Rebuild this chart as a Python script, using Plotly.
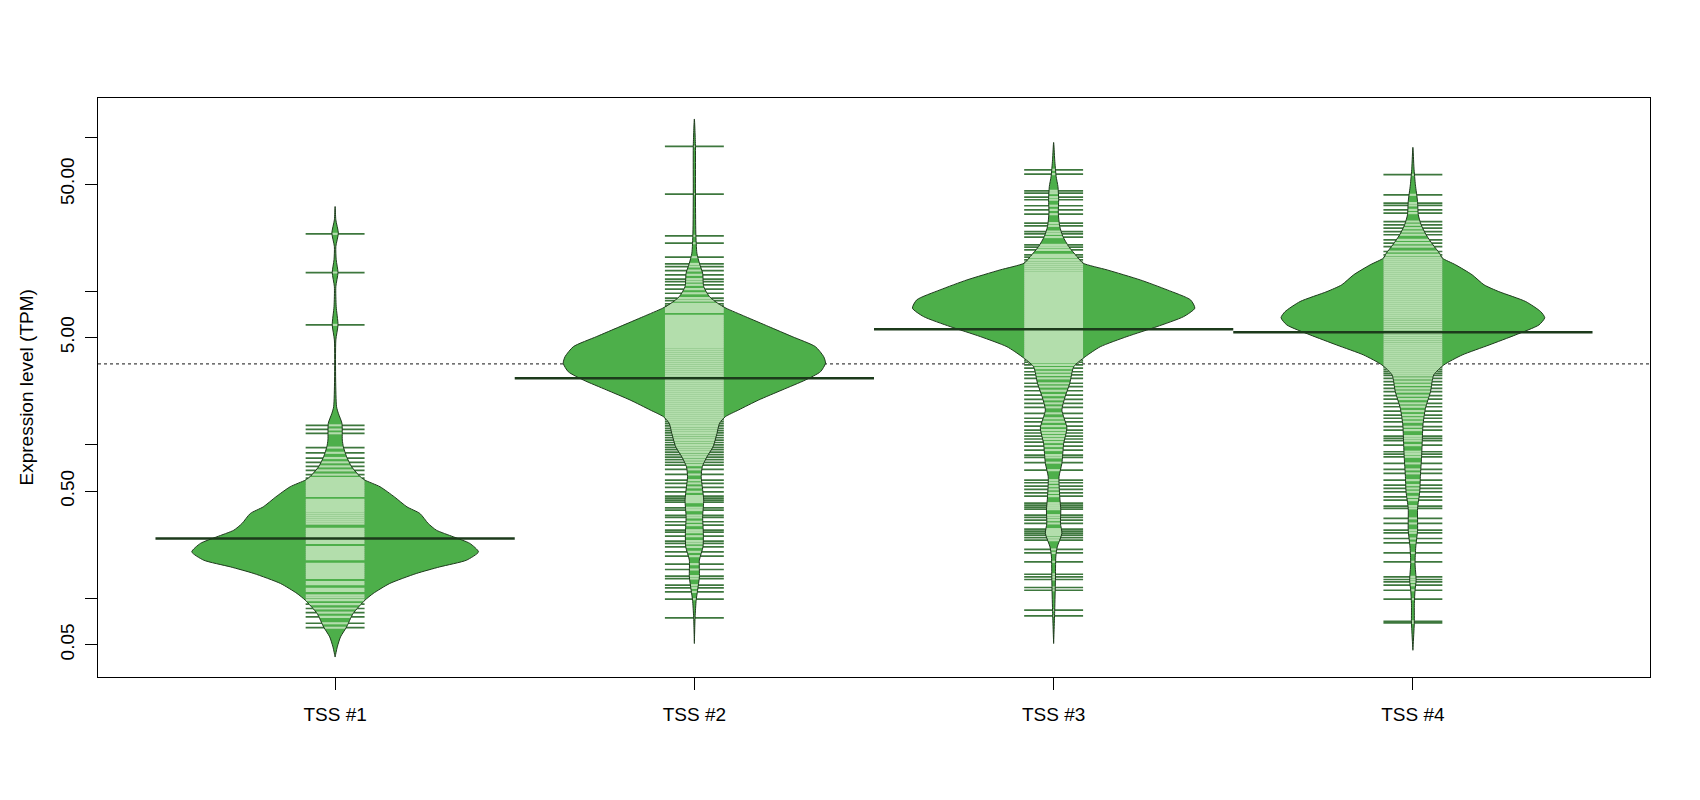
import numpy as np
import plotly.graph_objects as go

# ---------------- data (log10 TPM) ----------------
categories = ["TSS #1", "TSS #2", "TSS #3", "TSS #4"]

obs_tss1 = [1.375, 1.123, 0.782, 0.128, 0.101, 0.076, -0.017, -0.051, -0.085, -0.113, -0.139, -0.166, -0.193,
            -0.216, -0.229, -0.241, -0.255, -0.268, -0.280, -0.293, -0.306, -0.319, -0.331, -0.358, -0.371,
            -0.384, -0.397, -0.410, -0.422, -0.435, -0.448, -0.461, -0.474, -0.487, -0.499, -0.512, -0.546,
            -0.559, -0.572, -0.585, -0.598, -0.611, -0.624, -0.637, -0.665, -0.678, -0.691, -0.704, -0.717,
            -0.730, -0.743, -0.774, -0.787, -0.800, -0.813, -0.826, -0.839, -0.852, -0.865, -0.893, -0.906,
            -0.937, -0.950, -0.980, -0.993, -1.011, -1.037, -1.065, -1.092, -1.120, -1.161, -1.190]

obs_tss2 = [1.944, 1.634, 1.362, 1.314, 1.223, 1.179, 1.162, 1.136, 1.108, 1.080, 1.064, 1.043, 1.015, 0.988,
            0.956, 0.940, 0.919, 0.906, 0.893, 0.880, 0.867, 0.841, 0.828, 0.815, 0.802, 0.789, 0.776, 0.763,
            0.750, 0.737, 0.724, 0.711, 0.698, 0.685, 0.672, 0.659, 0.646, 0.633, 0.620, 0.607, 0.594, 0.581,
            0.568, 0.555, 0.542, 0.529, 0.516, 0.503, 0.490, 0.477, 0.464, 0.451, 0.438, 0.425, 0.412, 0.399,
            0.386, 0.373, 0.360, 0.347, 0.334, 0.321, 0.308, 0.295, 0.282, 0.269, 0.256, 0.243, 0.230, 0.217,
            0.204, 0.191, 0.178, 0.165, 0.152, 0.139, 0.124, 0.108, 0.093, 0.079, 0.062, 0.047, 0.031, 0.016,
            0.001, -0.015, -0.030, -0.046, -0.063, -0.079, -0.096, -0.113, -0.131, -0.159, -0.192, -0.229,
            -0.250, -0.276, -0.305, -0.333, -0.346, -0.359, -0.372, -0.409, -0.424, -0.459, -0.472, -0.500,
            -0.522, -0.555, -0.568, -0.594, -0.626, -0.641, -0.664, -0.696, -0.724, -0.776, -0.811, -0.854,
            -0.870, -0.913, -0.931, -0.957, -1.004, -1.126]

obs_tss3 = [1.792, 1.764, 1.655, 1.640, 1.614, 1.597, 1.558, 1.531, 1.503, 1.445, 1.427, 1.390, 1.375, 1.354,
            1.303, 1.288, 1.271, 1.238, 1.223, 1.206, 1.190, 1.177, 1.164, 1.151, 1.138, 1.125, 1.112, 1.099,
            1.086, 1.073, 1.060, 1.047, 1.034, 1.021, 1.008, 0.995, 0.982, 0.969, 0.956, 0.943, 0.930, 0.917,
            0.904, 0.891, 0.878, 0.865, 0.852, 0.839, 0.826, 0.813, 0.800, 0.787, 0.774, 0.761, 0.748, 0.735,
            0.722, 0.709, 0.696, 0.683, 0.670, 0.657, 0.644, 0.631, 0.618, 0.605, 0.592, 0.579, 0.566, 0.553,
            0.540, 0.521, 0.500, 0.477, 0.456, 0.434, 0.402, 0.380, 0.353, 0.325, 0.297, 0.271, 0.245, 0.206,
            0.174, 0.151, 0.123, 0.097, 0.078, 0.058, 0.039, 0.019, -0.007, -0.033, -0.066, -0.081, -0.115,
            -0.164, -0.229, -0.246, -0.268, -0.289, -0.312, -0.333, -0.379, -0.392, -0.405, -0.418, -0.457,
            -0.472, -0.489, -0.511, -0.548, -0.561, -0.574, -0.587, -0.604, -0.620, -0.680, -0.703, -0.761,
            -0.842, -0.859, -0.876, -0.928, -0.946, -1.076, -1.113]

obs_tss4 = [1.760, 1.629, 1.575, 1.560, 1.531, 1.510, 1.455, 1.434, 1.412, 1.390, 1.369, 1.336, 1.314, 1.292,
            1.260, 1.238, 1.220, 1.207, 1.194, 1.181, 1.168, 1.155, 1.142, 1.129, 1.116, 1.103, 1.090, 1.077,
            1.064, 1.051, 1.038, 1.025, 1.012, 0.999, 0.986, 0.973, 0.960, 0.947, 0.934, 0.921, 0.908, 0.895,
            0.882, 0.869, 0.856, 0.843, 0.830, 0.817, 0.804, 0.791, 0.778, 0.765, 0.752, 0.739, 0.726, 0.713,
            0.700, 0.687, 0.674, 0.661, 0.648, 0.635, 0.622, 0.609, 0.596, 0.583, 0.570, 0.557, 0.544, 0.531,
            0.518, 0.505, 0.492, 0.479, 0.466, 0.453, 0.434, 0.412, 0.391, 0.369, 0.347, 0.321, 0.299, 0.271,
            0.249, 0.221, 0.195, 0.174, 0.151, 0.119, 0.097, 0.058, 0.043, 0.028, -0.001, -0.044, -0.059,
            -0.077, -0.120, -0.159, -0.185, -0.229, -0.261, -0.283, -0.305, -0.338, -0.359, -0.398, -0.413,
            -0.478, -0.511, -0.555, -0.572, -0.609, -0.637, -0.703, -0.761, -0.859, -0.876, -0.892, -0.913,
            -0.946, -1.004, -1.148, -1.159]

# bean outlines: level (log10 TPM) and half-width (x units)
bean1_level = [1.553, 1.466, 1.380, 1.292, 1.206, 1.123, 1.031, 0.901, 0.782, 0.684, 0.423, 0.249, 0.206, 0.141,
               0.032, -0.012, -0.077, -0.142, -0.207, -0.229, -0.272, -0.338, -0.403, -0.446, -0.511, -0.555,
               -0.598, -0.641, -0.696, -0.750, -0.794, -0.837, -0.902, -0.967, -1.011, -1.098, -1.185, -1.250,
               -1.315, -1.381]
bean1_width = [0.0, 0.002, 0.009, 0.002, 0.003, 0.008, 0.002, 0.003, 0.008, 0.002, 0.0015, 0.004, 0.009, 0.019,
               0.020, 0.023, 0.032, 0.046, 0.070, 0.083, 0.125, 0.165, 0.200, 0.236, 0.259, 0.282, 0.329, 0.375,
               0.399, 0.366, 0.291, 0.226, 0.152, 0.106, 0.083, 0.050, 0.032, 0.015, 0.006, 0.0]

bean2_level = [2.123, 1.944, 1.640, 1.380, 1.249, 1.184, 1.119, 1.031, 0.966, 0.923, 0.891, 0.836, 0.771, 0.706,
               0.640, 0.575, 0.532, 0.477, 0.423, 0.358, 0.293, 0.228, 0.184, 0.141, 0.076, -0.012, -0.077,
               -0.142, -0.207, -0.272, -0.359, -0.468, -0.576, -0.664, -0.750, -0.859, -0.946, -1.011, -1.120,
               -1.293]
bean2_width = [0.0, 0.003, 0.003, 0.004, 0.007, 0.014, 0.023, 0.026, 0.042, 0.065, 0.088, 0.142, 0.207, 0.272,
               0.337, 0.360, 0.365, 0.351, 0.309, 0.244, 0.179, 0.123, 0.086, 0.070, 0.063, 0.052, 0.035, 0.022,
               0.019, 0.022, 0.026, 0.023, 0.025, 0.024, 0.014, 0.014, 0.009, 0.005, 0.002, 0.0]

bean3_level = [1.970, 1.857, 1.749, 1.683, 1.597, 1.510, 1.423, 1.357, 1.292, 1.227, 1.184, 1.140, 1.075, 1.010,
               0.945, 0.891, 0.836, 0.771, 0.706, 0.640, 0.575, 0.510, 0.402, 0.314, 0.228, 0.110, 0.011, -0.120,
               -0.207, -0.338, -0.424, -0.511, -0.576, -0.664, -0.729, -0.881, -1.076, -1.293]
bean3_width = [0.0, 0.003, 0.007, 0.012, 0.014, 0.013, 0.017, 0.026, 0.042, 0.065, 0.082, 0.149, 0.241, 0.316,
               0.381, 0.393, 0.362, 0.288, 0.204, 0.130, 0.088, 0.056, 0.045, 0.032, 0.023, 0.037, 0.028, 0.023,
               0.015, 0.017, 0.020, 0.019, 0.023, 0.010, 0.006, 0.005, 0.003, 0.0]

bean4_level = [1.938, 1.803, 1.694, 1.586, 1.499, 1.434, 1.368, 1.303, 1.249, 1.217, 1.173, 1.108, 1.043, 0.999,
               0.934, 0.868, 0.829, 0.782, 0.717, 0.651, 0.586, 0.521, 0.456, 0.347, 0.239, 0.130, 0.021, -0.087,
               -0.196, -0.305, -0.413, -0.555, -0.664, -0.772, -0.881, -0.946, -1.033, -1.152, -1.206, -1.337]
bean4_width = [0.0, 0.003, 0.007, 0.013, 0.015, 0.023, 0.037, 0.056, 0.074, 0.082, 0.119, 0.165, 0.198, 0.239,
               0.314, 0.356, 0.367, 0.351, 0.286, 0.212, 0.137, 0.086, 0.058, 0.049, 0.035, 0.028, 0.026, 0.024,
               0.021, 0.019, 0.013, 0.013, 0.008, 0.006, 0.009, 0.006, 0.004, 0.004, 0.003, 0.0]

group_means = [-0.609, 0.434, 0.754, 0.734]
overall_mean = 0.528

ytick_values = [0.05, 0.1, 0.5, 1, 5, 10, 50, 100]
ytick_labels = ["0.05", "", "0.50", "", "5.00", "", "50.00", ""]

# ---------------- styling ----------------
BEAN = "#4DAF4A"
LIGHT = "#B3DEAC"
DARK = "rgba(40,104,40,0.9)"
BORDER = "#1E3A1D"
AVG = "#1C3A1B"
LINE_HALF = 0.082
AVG_HALF = 0.5
FONT = "Liberation Sans, Arial, Helvetica, sans-serif"

obs_all = [obs_tss1, obs_tss2, obs_tss3, obs_tss4]
levels_all = [bean1_level, bean2_level, bean3_level, bean4_level]
widths_all = [bean1_width, bean2_width, bean3_width, bean4_width]

fig = go.Figure()

# overall mean dotted line (below everything)
fig.add_trace(go.Scatter(x=[0.34, 4.66], y=[10 ** overall_mean] * 2, mode="lines",
                         line=dict(color="#444444", width=1.2, dash="dot"), hoverinfo="skip"))

for i, (obs, lev, wid) in enumerate(zip(obs_all, levels_all, widths_all)):
    pos = i + 1
    lev = np.array(lev)
    wid = np.array(wid)
    px = np.concatenate([pos + wid, (pos - wid)[::-1]])
    py = np.concatenate([10 ** lev, (10 ** lev)[::-1]])
    # bean fill
    fig.add_trace(go.Scatter(x=px, y=py, mode="lines", fill="toself", fillcolor=BEAN,
                             line=dict(width=0, shape="spline", smoothing=0.6), hoverinfo="skip"))
    # outside (dark) lines, full length
    obs = np.array(obs)
    xs, ys = [], []
    for v in obs:
        xs += [pos - LINE_HALF, pos + LINE_HALF, None]
        ys += [10 ** v, 10 ** v, None]
    fig.add_trace(go.Scatter(x=xs, y=ys, mode="lines", line=dict(color=DARK, width=1.7), hoverinfo="skip"))
    # inside (light) lines, clipped to bean width
    order = np.argsort(lev)
    hw = np.interp(obs, lev[order], wid[order])
    xs, ys = [], []
    for v, h in zip(obs, hw):
        h = min(h, LINE_HALF)
        xs += [pos - h, pos + h, None]
        ys += [10 ** v, 10 ** v, None]
    fig.add_trace(go.Scatter(x=xs, y=ys, mode="lines", line=dict(color=LIGHT, width=2.2), hoverinfo="skip"))
    # bean outline
    fig.add_trace(go.Scatter(x=px, y=py, mode="lines",
                             line=dict(color=BORDER, width=1, shape="spline", smoothing=0.6), hoverinfo="skip"))
    # average line
    fig.add_trace(go.Scatter(x=[pos - AVG_HALF, pos + AVG_HALF], y=[10 ** group_means[i]] * 2, mode="lines",
                             line=dict(color=AVG, width=2.5), hoverinfo="skip"))

fig.update_layout(
    width=1692, height=792,
    margin=dict(l=90, r=50, t=90, b=123),
    paper_bgcolor="white", plot_bgcolor="white",
    showlegend=False,
    font=dict(family=FONT, size=19, color="black"),
    xaxis=dict(range=[0.34, 4.66], tickvals=[1, 2, 3, 4], ticktext=categories,
               ticks="outside", ticklen=12, tickwidth=1, tickcolor="black",
               showline=True, linecolor="black", linewidth=1, mirror=True,
               showgrid=False, zeroline=False, ticklabelstandoff=8,
               tickfont=dict(family=FONT, size=19)),
    yaxis=dict(type="log", range=[-1.511, 2.2596], tickvals=ytick_values, ticktext=ytick_labels,
               tickangle=-90, ticks="outside", ticklen=12, tickwidth=1, tickcolor="black",
               showline=True, linecolor="black", linewidth=1, mirror=True,
               showgrid=False, zeroline=False, ticklabelstandoff=3,
               tickfont=dict(family=FONT, size=19)),
    annotations=[dict(text="Expression level (TPM)", xref="paper", yref="paper",
                      x=(26 - 98) / 1552, y=0.5, xanchor="center", yanchor="middle",
                      textangle=-90, showarrow=False, font=dict(family=FONT, size=19))],
)

fig.write_html("out.html")
